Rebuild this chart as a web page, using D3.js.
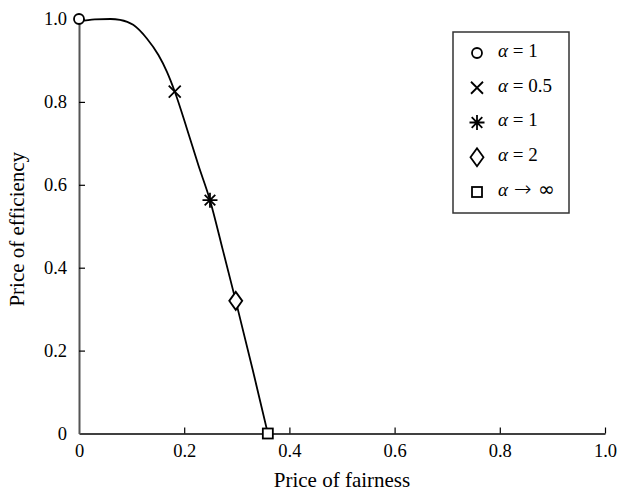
<!DOCTYPE html>
<html>
<head>
<meta charset="utf-8">
<script src="https://cdn.jsdelivr.net/npm/d3@7/dist/d3.min.js"></script>
<style>
  body { margin: 0; background: #fff; }
  svg text { font-family: 'Liberation Serif', 'Times New Roman', Times, 'DejaVu Serif', serif; }
</style>
</head>
<body>
<svg width="618" height="492"></svg>
<script>
// curve
var curveX = [0, 0.03, 0.06, 0.078, 0.103, 0.129, 0.151, 0.167, 0.182, 0.205, 0.227, 0.249, 0.274, 0.298, 0.33, 0.359];
var curveY = [0.994, 0.999, 1.0, 0.998, 0.986, 0.953, 0.913, 0.873, 0.825, 0.736, 0.647, 0.563, 0.44, 0.32, 0.155, 0];

// markers on the curve, one per alpha value
var markerX = [0, 0.182, 0.249, 0.298, 0.359];
var markerY = [1.0, 0.825, 0.563, 0.32, 0];
var markerShape = ['circle', 'cross', 'asterisk', 'diamond', 'square'];
var legendLabels = ['= 1', '= 0.5', '= 1', '= 2', '\u2192 \u221E'];

var xTicks = [0, 0.2, 0.4, 0.6, 0.8, 1.0];
var xTickLabels = ['0', '0.2', '0.4', '0.6', '0.8', '1.0'];
var yTicks = [0, 0.2, 0.4, 0.6, 0.8, 1.0];
var yTickLabels = ['0', '0.2', '0.4', '0.6', '0.8', '1.0'];

var svg = d3.select('svg');
var margin = {top: 19, right: 13, bottom: 58.5, left: 79};
var width = 618 - margin.left - margin.right;
var height = 492 - margin.top - margin.bottom;

var x = d3.scaleLinear().domain([0, 1]).range([0, width]);
var y = d3.scaleLinear().domain([0, 1]).range([height, 0]);

var g = svg.append('g').attr('transform', 'translate(' + margin.left + ',' + margin.top + ')');

// x axis, ticks pointing inward
var xAxis = g.append('g')
    .attr('transform', 'translate(0,' + height + ')')
    .call(d3.axisBottom(x)
        .tickValues(xTicks)
        .tickFormat(function(d, i) { return xTickLabels[i]; })
        .tickSizeInner(-6)
        .tickSizeOuter(0)
        .tickPadding(10));
xAxis.attr('font-family', null).attr('font-size', 18.5);
xAxis.select('.domain').attr('stroke', '#000').attr('stroke-width', 1.5);
xAxis.selectAll('.tick line').attr('stroke', '#000').attr('stroke-width', 1.2);
xAxis.selectAll('.tick').filter(function(d) { return d === 0; }).select('line').remove();
xAxis.selectAll('text').attr('fill', '#000');

var yAxis = g.append('g')
    .call(d3.axisLeft(y)
        .tickValues(yTicks)
        .tickFormat(function(d, i) { return yTickLabels[i]; })
        .tickSizeInner(-6)
        .tickSizeOuter(0)
        .tickPadding(12));
yAxis.attr('font-family', null).attr('font-size', 18.5);
yAxis.select('.domain').attr('stroke', '#555').attr('stroke-width', 2);
yAxis.selectAll('.tick line').attr('stroke', '#000').attr('stroke-width', 1.2);
yAxis.selectAll('.tick').filter(function(d) { return d === 0; }).select('line').remove();
yAxis.selectAll('text').attr('fill', '#000');

// axis titles
g.append('text')
    .attr('x', width / 2)
    .attr('y', height + 53.5)
    .attr('text-anchor', 'middle')
    .attr('font-size', 21)
    .text('Price of fairness');

g.append('text')
    .attr('transform', 'translate(' + (24 - margin.left) + ',' + (height / 2 + 3) + ') rotate(-90)')
    .attr('text-anchor', 'middle')
    .attr('font-size', 21)
    .text('Price of efficiency');

// the curve
var line = d3.line()
    .x(function(d) { return x(d[0]); })
    .y(function(d) { return y(d[1]); })
    .curve(d3.curveMonotoneX);

g.append('path')
    .datum(d3.zip(curveX, curveY))
    .attr('d', line)
    .attr('fill', 'none')
    .attr('stroke', '#000')
    .attr('stroke-width', 1.8);

function drawMarker(sel, shape) {
    sel.attr('fill', '#fff').attr('stroke', '#000').attr('stroke-width', 1.8);
    if (shape === 'circle') {
        sel.append('circle').attr('r', 5);
    } else if (shape === 'cross') {
        sel.append('path').attr('d', 'M-6,-6L6,6M-6,6L6,-6');
    } else if (shape === 'asterisk') {
        sel.append('path').attr('d', 'M0,-7.5L0,7.5M-7.5,0L7.5,0M-5.3,-5.3L5.3,5.3M-5.3,5.3L5.3,-5.3');
    } else if (shape === 'diamond') {
        sel.append('path').attr('d', 'M0,-9L6.5,0L0,9L-6.5,0Z');
    } else if (shape === 'square') {
        sel.append('rect').attr('x', -5).attr('y', -5).attr('width', 10).attr('height', 10);
    }
}

markerShape.forEach(function(shape, i) {
    var m = g.append('g')
        .attr('transform', 'translate(' + x(markerX[i]) + ',' + y(markerY[i]) + ')');
    drawMarker(m, shape);
});

// legend box
var legend = svg.append('g').attr('transform', 'translate(453,32)');
legend.append('rect')
    .attr('width', 116)
    .attr('height', 181)
    .attr('fill', '#fff')
    .attr('stroke', '#333')
    .attr('stroke-width', 1.5);

var rowY = d3.scaleLinear().domain([0, 4]).range([21, 160]);

markerShape.forEach(function(shape, i) {
    var row = legend.append('g').attr('transform', 'translate(24,' + rowY(i) + ')');
    drawMarker(row.append('g'), shape);
    var t = row.append('text')
        .attr('x', 21)
        .attr('y', 0)
        .attr('dy', '0.2em')
        .attr('font-size', 19)
        .attr('fill', '#000')
        .attr('stroke', 'none');
    t.append('tspan').attr('font-style', 'italic').text('\u03B1');
    if (legendLabels[i].charAt(0) === '\u2192') {
        // symbol-font style arrow and infinity
        t.append('tspan')
            .attr('dx', 6)
            .style('font-family', "'DejaVu Sans', sans-serif")
            .attr('font-size', 21)
            .attr('font-weight', 300)
            .text('\u2192');
        t.append('tspan')
            .style('font-family', "'DejaVu Sans', sans-serif")
            .attr('font-size', 20)
            .text(' \u221E');
    } else {
        t.append('tspan').text(' ' + legendLabels[i]);
    }
});
</script>
</body>
</html>
